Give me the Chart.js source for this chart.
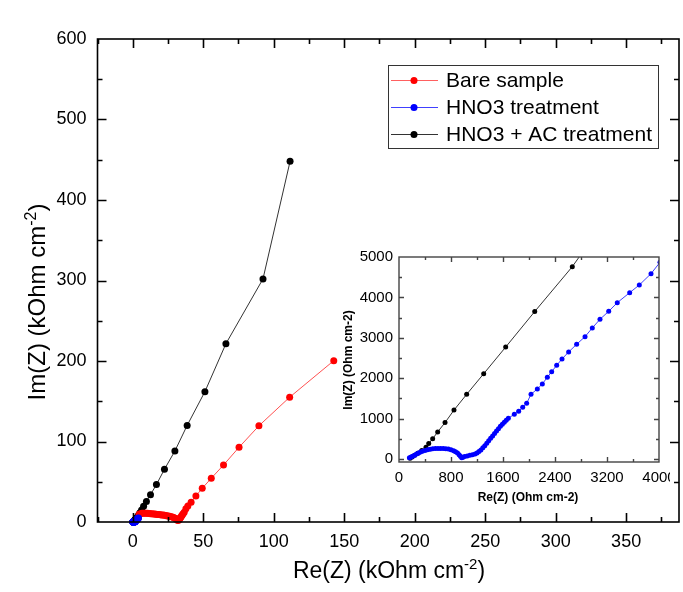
<!DOCTYPE html>
<html>
<head>
<meta charset="utf-8">
<script src="https://cdn.jsdelivr.net/npm/chart.js@4.4.1/dist/chart.umd.min.js"></script>
<style>
  html, body { margin: 0; padding: 0; background: #fff; }
  #wrap { position: relative; width: 683px; height: 592px; }
  #main { position: absolute; left: 0; top: 0; }
  #inset { position: absolute; left: 335px; top: 245px; }
</style>
</head>
<body>
<div id="wrap">
  <canvas id="main" width="683" height="592"></canvas>
  <canvas id="inset" width="335" height="265"></canvas>
</div>
<script>
"use strict";

// Bare sample, kOhm cm-2
var redX = [4.5, 5.5, 6.5, 7.5, 8.5, 9.5, 10.5, 11.5, 12.5, 13.5, 14.5, 15.5, 16.5, 17.5, 18.5, 19.5, 20.5, 21.5, 22.5, 23.5, 24.5, 25.5, 26.5, 27.5, 28.5, 29.3, 30.0, 30.6, 31.1, 31.6, 32.1, 32.6, 33.1, 33.6, 34.1, 34.6, 35.1, 35.7, 36.5, 37.7, 39.1, 41.4, 44.8, 49.3, 55.7, 64.4, 75.4, 89.5, 111.3, 142.6];
var redY = [9.5, 10.3, 10.8, 11.0, 11.0, 10.9, 10.8, 10.6, 10.4, 10.2, 10.0, 9.8, 9.6, 9.4, 9.2, 9.0, 8.8, 8.6, 8.3, 8.0, 7.6, 7.3, 6.9, 6.5, 6.0, 5.4, 4.8, 4.2, 3.4, 2.6, 1.8, 2.4, 3.4, 4.6, 5.9, 7.3, 8.8, 10.2, 12.0, 16.5, 19.9, 24.5, 32.3, 41.9, 54.3, 70.8, 92.8, 119.5, 155.0, 200.4];

// HNO3 treatment, Ohm cm-2
var blueX = [160, 185, 210, 240, 270, 300, 330, 360, 400, 440, 480, 520, 560, 600, 640, 680, 720, 760, 800, 840, 870, 900, 925, 945, 965, 985, 1010, 1050, 1090, 1130, 1170, 1200, 1230, 1260, 1290, 1320, 1350, 1380, 1410, 1440, 1470, 1500, 1530, 1560, 1590, 1620, 1650, 1682, 1774, 1841, 1903, 1964, 2031, 2128, 2205, 2282, 2349, 2426, 2508, 2610, 2733, 2862, 2974, 3092, 3226, 3358, 3549, 3697, 3877, 4015];
var blueY = [30, 50, 70, 95, 120, 145, 170, 190, 210, 228, 242, 252, 258, 262, 262, 260, 255, 245, 228, 205, 180, 145, 105, 65, 30, 40, 60, 75, 90, 105, 125, 150, 185, 225, 275, 330, 390, 450, 510, 570, 630, 690, 750, 810, 860, 910, 960, 1010, 1106, 1180, 1280, 1379, 1601, 1733, 1856, 2022, 2161, 2319, 2475, 2649, 2839, 3028, 3243, 3458, 3655, 3869, 4117, 4307, 4587, 4868];

// HNO3 + AC treatment, kOhm cm-2
var blackX = [0.17, 0.2, 0.24, 0.29, 0.35, 0.415, 0.457, 0.518, 0.595, 0.708, 0.846, 1.041, 1.303, 1.641, 2.088, 2.666, 3.3, 4.1, 5.1, 6.3, 7.7, 9.7, 12.6, 16.8, 22.5, 29.9, 38.6, 51.2, 66.1, 92.4, 111.6];
var blackY = [0.02, 0.05, 0.09, 0.14, 0.21, 0.29, 0.38, 0.5, 0.67, 0.9, 1.21, 1.6, 2.11, 2.77, 3.65, 4.76, 6.2, 8.5, 11.5, 15.0, 19.5, 25.5, 34.0, 46.5, 65.5, 88.2, 120.0, 161.9, 221.5, 302.0, 448.0];

var mainXTicks = [0, 50, 100, 150, 200, 250, 300, 350];
var mainXMinor = [-25, 25, 75, 125, 175, 225, 275, 325, 375];
var mainYTicks = [0, 100, 200, 300, 400, 500, 600];
var mainYMinor = [50, 150, 250, 350, 450, 550];
var insetXTicks = [0, 800, 1600, 2400, 3200, 4000];
var insetXMinor = [400, 1200, 2000, 2800, 3600];
var insetYTicks = [0, 1000, 2000, 3000, 4000, 5000];
var insetYMinor = [500, 1500, 2500, 3500, 4500];

var FONT = "'Liberation Sans', Arial, sans-serif";
Chart.defaults.font.family = FONT;
Chart.defaults.color = '#000';

function pts(xs, ys, k){
    return xs.map(function(x, i){ return {x: x * k, y: ys[i] * k}; });
}

function series(label, data, color, lineColor, r, order, clip){
    return {
        label: label, data: data, showLine: true,
        borderColor: lineColor, backgroundColor: color,
        pointBackgroundColor: color, pointBorderWidth: 0,
        borderWidth: 1, pointRadius: r, order: order, clip: clip
    };
}

function axis(min, max, ticks, size, pad, fit){
    return {
        type: 'linear', min: min, max: max,
        afterBuildTicks: function(s){ s.ticks = ticks.map(function(v){ return {value: v}; }); },
        afterFit: fit,
        grid: {display: false, drawTicks: false},
        border: {display: false},
        ticks: {
            font: {size: size}, color: '#000', padding: pad, maxRotation: 0, autoSkip: false,
            callback: function(v){ return String(v); }
        }
    };
}

// frame round the plot with inward ticks on all four sides
function frame(id, xMaj, xMin, yMaj, yMin, big, small, lw, col){
    return {
        id: id,
        afterDraw: function(chart){
            var c = chart.ctx, a = chart.chartArea;
            var sx = chart.scales.x, sy = chart.scales.y;
            c.save();
            c.strokeStyle = col;
            c.lineWidth = lw;
            c.strokeRect(a.left, a.top, a.right - a.left, a.bottom - a.top);
            c.beginPath();
            function xt(list, len){
                list.forEach(function(v){
                    var px = Math.round(sx.getPixelForValue(v)) + 0.5;
                    if(px < a.left + 1 || px > a.right - 1) return;
                    c.moveTo(px, a.bottom); c.lineTo(px, a.bottom - len);
                    c.moveTo(px, a.top); c.lineTo(px, a.top + len);
                });
            }
            function yt(list, len){
                list.forEach(function(v){
                    var py = Math.round(sy.getPixelForValue(v)) + 0.5;
                    if(py < a.top + 1 || py > a.bottom - 1) return;
                    c.moveTo(a.left, py); c.lineTo(a.left + len, py);
                    c.moveTo(a.right, py); c.lineTo(a.right - len, py);
                });
            }
            xt(xMaj, big); xt(xMin, small);
            yt(yMaj, big); yt(yMin, small);
            c.stroke();
            c.restore();
        }
    };
}

// text with a superscript part, centred on (0,0) of the current transform
function supText(c, pre, sup, post, size){
    c.font = size + 'px ' + FONT;
    var w1 = c.measureText(pre).width, w3 = c.measureText(post).width;
    c.font = Math.round(size * 0.65) + 'px ' + FONT;
    var w2 = c.measureText(sup).width;
    var x = -(w1 + w2 + w3) / 2;
    c.textBaseline = 'alphabetic';
    c.textAlign = 'left';
    c.font = size + 'px ' + FONT;
    c.fillText(pre, x, size * 0.35);
    c.font = Math.round(size * 0.65) + 'px ' + FONT;
    c.fillText(sup, x + w1, size * 0.35 - size * 0.4);
    c.font = size + 'px ' + FONT;
    c.fillText(post, x + w1 + w2, size * 0.35);
}

var mainDecor = {
    id: 'mainDecor',
    afterDraw: function(chart){
        var c = chart.ctx;
        c.save();
        c.fillStyle = '#000';
        c.translate(389, 570);
        supText(c, 'Re(Z) (kOhm cm', '-2', ')', 23);
        c.restore();

        c.save();
        c.fillStyle = '#000';
        c.translate(37, 302);
        c.rotate(-Math.PI / 2);
        supText(c, 'Im(Z) (kOhm cm', '-2', ')', 24);
        c.restore();

        // legend box
        var rows = [
            {text: 'Bare sample', color: '#ff0000', line: '#ff6060'},
            {text: 'HNO3 treatment', color: '#0000ff', line: '#4040ff'},
            {text: 'HNO3 + AC treatment', color: '#000000', line: '#333333'}
        ];
        c.save();
        c.strokeStyle = '#333';
        c.lineWidth = 1;
        c.strokeRect(388.5, 65.5, 270, 83);
        c.font = '21px ' + FONT;
        c.textBaseline = 'middle';
        c.textAlign = 'left';
        rows.forEach(function(r, i){
            var y = 80 + i * 27;
            c.strokeStyle = r.line;
            c.beginPath(); c.moveTo(391, y + 0.5); c.lineTo(438, y + 0.5); c.stroke();
            c.fillStyle = r.color;
            c.beginPath(); c.arc(414, y + 0.5, 3.5, 0, Math.PI * 2); c.fill();
            c.fillStyle = '#000';
            c.fillText(r.text, 446, y + 1);
        });
        c.restore();
    }
};

var insetDecor = {
    id: 'insetDecor',
    afterDraw: function(chart){
        var c = chart.ctx;
        c.save();
        c.fillStyle = '#000';
        c.font = 'bold 12px ' + FONT;
        c.textAlign = 'center';
        c.textBaseline = 'middle';
        c.fillText('Re(Z) (Ohm cm-2)', 193, 253);
        c.translate(14, 115);
        c.rotate(-Math.PI / 2);
        c.fillText('Im(Z) (Ohm cm-2)', 0, 0);
        c.restore();
    }
};

function noSidePad(h){
    return function(s){ s.height = h; s.paddingLeft = 0; s.paddingRight = 0; };
}
function noEndPad(w){
    return function(s){ s.width = w; s.paddingTop = 0; s.paddingBottom = 0; };
}

new Chart(document.getElementById('main'), {
    type: 'scatter',
    data: {
        datasets: [
            series('HNO3 treatment', pts(blueX, blueY, 0.001), '#0000ff', '#0000ff', 3.5, 1, false),
            series('Bare sample', pts(redX, redY, 1), '#ff0000', '#ff5050', 3.5, 2, false),
            series('HNO3 + AC treatment', pts(blackX, blackY, 1), '#000000', '#333333', 3.5, 3, false)
        ]
    },
    options: {
        responsive: false,
        animation: false,
        events: [],
        layout: {padding: {top: 39, right: 4, left: 0, bottom: 0}},
        plugins: {legend: {display: false}, tooltip: {enabled: false}},
        scales: {
            x: axis(-25, 387.5, mainXTicks, 18, 9, noSidePad(70)),
            y: axis(0, 600, mainYTicks, 18, 11, noEndPad(97.5))
        }
    },
    plugins: [frame('mainFrame', mainXTicks, mainXMinor, mainYTicks, mainYMinor, 9, 5, 1.6, '#000'), mainDecor]
});

new Chart(document.getElementById('inset'), {
    type: 'scatter',
    data: {
        datasets: [
            series('HNO3 treatment', pts(blueX, blueY, 1), '#0000ff', '#4040ff', 2.5, 1, 0),
            series('HNO3 + AC treatment', pts(blackX, blackY, 1000), '#000000', '#333333', 2.5, 2, 0)
        ]
    },
    options: {
        responsive: false,
        animation: false,
        events: [],
        layout: {padding: {top: 12, right: 11, left: 0, bottom: 0}},
        plugins: {legend: {display: false}, tooltip: {enabled: false}},
        scales: {
            x: axis(0, 4000, insetXTicks, 15, 7, noSidePad(48)),
            y: axis(-75, 5000, insetYTicks, 15, 6, noEndPad(64))
        }
    },
    plugins: [frame('insetFrame', insetXTicks, insetXMinor, insetYTicks, insetYMinor, 5, 3, 1.4, '#444'), insetDecor]
});
</script>
</body>
</html>
